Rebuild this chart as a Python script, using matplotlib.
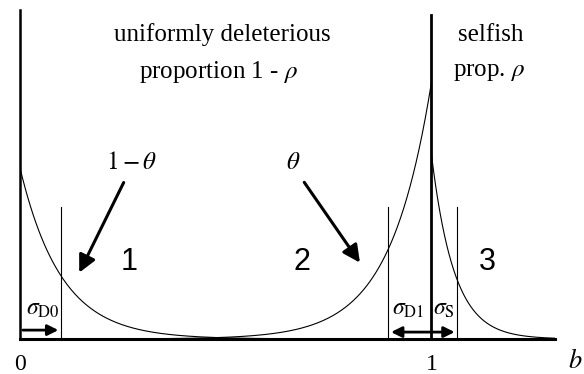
import numpy as np
import matplotlib
matplotlib.use("Agg")
import matplotlib.pyplot as plt

plt.rcParams["font.family"] = ["Liberation Serif", "DejaVu Serif"]
plt.rcParams["mathtext.fontset"] = "stix"

# distribution components: name, centre, amplitude, width, side
components = ["D0", "D1", "S"]
centres = [0.0, 1.0, 1.0]
amplitudes = [0.52, 0.78, 0.56]
widths = [0.10, 0.10, 0.055]
sides = [1, -1, 1]   # +1 decays to the right, -1 decays to the left

# marker lines for the sigma widths
sigma_pos = [0.10, 0.895, 1.063]
sigma_top = 0.40
region_labels = ["1", "2", "3"]
region_x = [0.265, 0.685, 1.135]

fig = plt.figure(figsize=(5.84, 3.74), dpi=100)
ax = fig.add_axes([0.0342, 0.0936, 0.916, 0.880])
ax.set_xlim(0, 1.3)
ax.set_ylim(0, 1)

for c, a, w, s in zip(centres, amplitudes, widths, sides):
    if s > 0:
        b = np.linspace(c, 1.3, 400)
        y = a * np.exp(-(b - c) / w)
    else:
        b = np.linspace(0, c, 400)
        y = a * np.exp(-(c - b) / w)
    ax.plot(b, y, color="black", lw=0.8)

# selfish spike at b = 1
ax.plot([1, 1], [0, 0.985], color="black", lw=2)

for p in sigma_pos:
    ax.plot([p, p], [0, sigma_top], color="black", lw=0.8)

arrow_kw = dict(arrowstyle="-|>", color="black", lw=2, mutation_scale=16)
ax.annotate("", xy=(sigma_pos[0], 0.027), xytext=(0, 0.027), arrowprops=arrow_kw)
ax.annotate("", xy=(sigma_pos[1], 0.021), xytext=(sigma_pos[2], 0.021),
            arrowprops=dict(arrowstyle="<|-|>", color="black", lw=2, mutation_scale=16))

ax.text(0.015, 0.09, r"$\sigma_{\rm D0}$", fontsize=17, ha="left", va="center")
ax.text(0.905, 0.09, r"$\sigma_{\rm D1}$", fontsize=17, ha="left", va="center")
ax.text(1.003, 0.09, r"$\sigma_{\rm S}$", fontsize=17, ha="left", va="center")

for lab, x in zip(region_labels, region_x):
    ax.text(x, 0.235, lab, fontsize=22, family="Liberation Sans", ha="center", va="center")

# theta arrows
big_arrow = dict(arrowstyle="-|>", color="black", lw=2.2, mutation_scale=26)
ax.annotate("", xy=(0.141, 0.194), xytext=(0.255, 0.483), arrowprops=big_arrow)
ax.annotate("", xy=(0.830, 0.225), xytext=(0.687, 0.483), arrowprops=big_arrow)
ax.text(0.272, 0.535, r"$1-\theta$", fontsize=18, ha="center", va="center")
ax.text(0.665, 0.535, r"$\theta$", fontsize=18, ha="center", va="center")

ax.text(0.492, 0.925, "uniformly deleterious", fontsize=18, ha="center", va="center")
ax.text(0.482, 0.81, r"proportion 1 - $\rho$", fontsize=18, ha="center", va="center")
ax.text(1.143, 0.925, "selfish", fontsize=18, ha="center", va="center")
ax.text(1.14, 0.81, r"prop. $\rho$", fontsize=18, ha="center", va="center")

for side in ["top", "right"]:
    ax.spines[side].set_visible(False)
ax.spines["left"].set_linewidth(1.8)
ax.spines["bottom"].set_linewidth(2.2)
ax.set_xticks([0, 1])
ax.set_xticklabels(["0", "1"], fontsize=17)
ax.tick_params(axis="x", length=0, pad=11)
ax.set_yticks([])
fig.text(0.985, 0.035, r"$b$", fontsize=19, ha="center", va="center")

fig.savefig("out.png", dpi=100)
